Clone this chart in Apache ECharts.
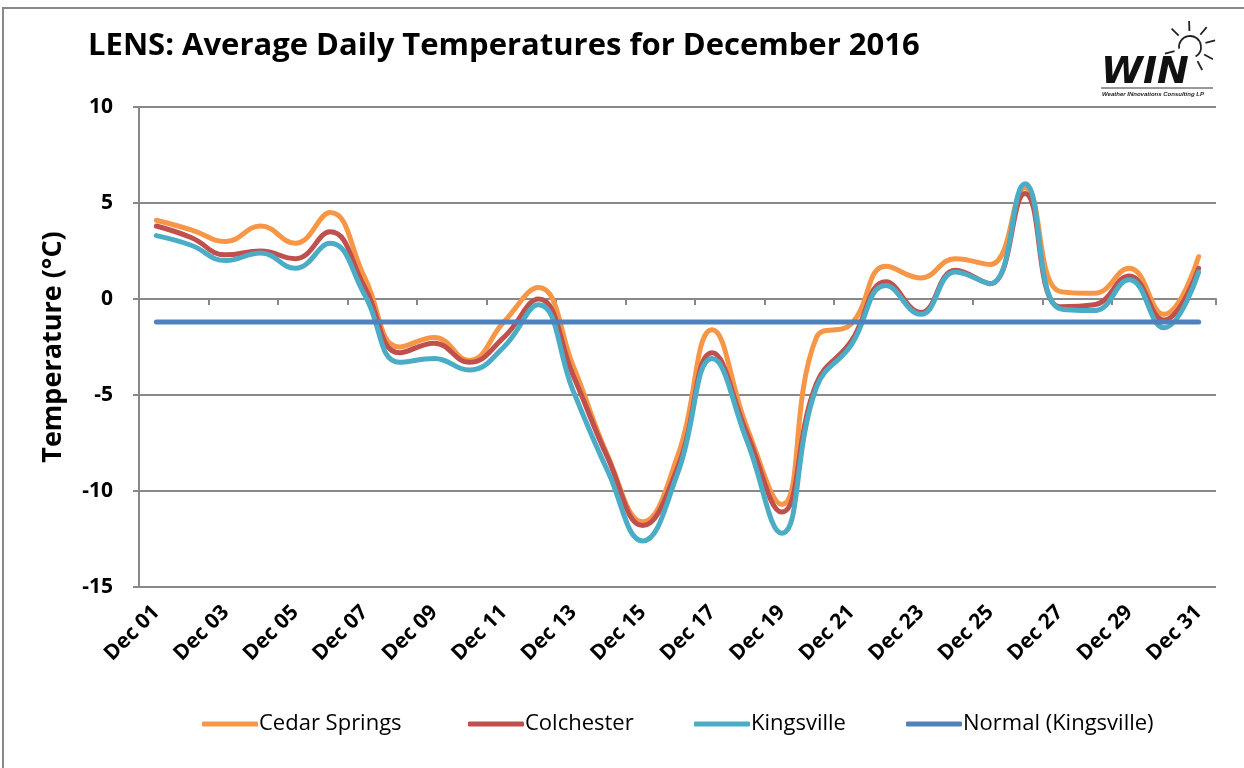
<!DOCTYPE html>
<html>
<head>
<meta charset="utf-8">
<script src="https://cdn.jsdelivr.net/npm/echarts@6/dist/echarts.min.js"></script>
<style>
html,body{margin:0;padding:0;background:#fff;}
#chart{width:1244px;height:768px;}
</style>
</head>
<body>
<div id="chart"></div>
<script>
var titleText = 'LENS: Average Daily Temperatures for December 2016';
var categories = ['Dec 01','Dec 02','Dec 03','Dec 04','Dec 05','Dec 06','Dec 07','Dec 08','Dec 09','Dec 10',
  'Dec 11','Dec 12','Dec 13','Dec 14','Dec 15','Dec 16','Dec 17','Dec 18','Dec 19','Dec 20',
  'Dec 21','Dec 22','Dec 23','Dec 24','Dec 25','Dec 26','Dec 27','Dec 28','Dec 29','Dec 30','Dec 31'];
var cedarSprings = [4.1, 3.6, 3.0, 3.8, 2.9, 4.5, 1.1, -2.5, -2.0, -3.2, -1.2, 0.6, -3.5, -8.2, -11.6, -8.2, -1.6, -6.7, -10.7, -2.0, -1.3, 1.7, 1.1, 2.1, 1.8, 5.8, 0.4, 0.3, 1.6, -0.8, 2.2];
var colchester   = [3.8, 3.2, 2.3, 2.5, 2.1, 3.5, 0.6, -2.8, -2.3, -3.3, -2.0, 0.0, -4.0, -8.3, -11.8, -8.8, -2.8, -7.0, -11.1, -4.4, -2.2, 0.9, -0.7, 1.5, 0.8, 5.5, -0.4, -0.3, 1.2, -1.1, 1.6];
var kingsville   = [3.3, 2.8, 2.0, 2.4, 1.6, 2.9, 0.2, -3.3, -3.1, -3.7, -2.5, -0.3, -4.8, -9.0, -12.6, -9.1, -3.1, -7.4, -12.2, -4.6, -2.4, 0.7, -0.8, 1.4, 0.8, 6.0, -0.5, -0.6, 1.0, -1.5, 1.4];
var normalKingsville = [-1.2, -1.2, -1.2, -1.2, -1.2, -1.2, -1.2, -1.2, -1.2, -1.2, -1.2, -1.2, -1.2, -1.2, -1.2, -1.2, -1.2, -1.2, -1.2, -1.2, -1.2, -1.2, -1.2, -1.2, -1.2, -1.2, -1.2, -1.2, -1.2, -1.2, -1.2];
var seriesNames = ['Cedar Springs', 'Colchester', 'Kingsville', 'Normal (Kingsville)'];
var seriesColors = ['#F79646', '#C0504D', '#4BACC6', '#4F81BD'];
var yTicks = {min: -15, max: 10, interval: 5};

var FONT = '"Open Sans", "Liberation Sans", sans-serif';
var chart = echarts.init(document.getElementById('chart'), null, {renderer: 'canvas'});

function lineSeries(name, data, color, smooth) {
  return {
    name: name, type: 'line', data: data, xAxisIndex: 0, yAxisIndex: 0,
    smooth: smooth, showSymbol: false, symbol: 'none',
    lineStyle: {color: color, width: 5, cap: 'round', join: 'round'},
    itemStyle: {color: color},
    z: 3
  };
}

var legendLefts = [197, 463, 689, 901];
var legends = seriesNames.map(function (n, i) {
  return {
    data: [n], left: legendLefts[i], top: 708,
    icon: 'roundRect', itemWidth: 56, itemHeight: 5, itemGap: 0,
    textStyle: {fontFamily: FONT, fontSize: 22, color: '#000', padding: [0, 0, 0, -4]},
    selectedMode: false
  };
});

var sunCx = 1190, sunCy = 47;
var rayAngles = [195, 135, 92, 50, 15, -28, -62];
var rays = rayAngles.map(function (a) {
  var r = a * Math.PI / 180;
  return {
    type: 'line',
    shape: {x1: sunCx + 16 * Math.cos(r), y1: sunCy - 16 * Math.sin(r), x2: sunCx + 26 * Math.cos(r), y2: sunCy - 26 * Math.sin(r)},
    style: {stroke: '#222', lineWidth: 1.8}
  };
});

var option = {
  backgroundColor: '#fff',
  animation: false,
  title: {
    text: titleText, left: 83, top: 26,
    textStyle: {fontFamily: FONT, fontWeight: 'bold', fontSize: 31, color: '#000'}
  },
  legend: legends,
  grid: {left: 139, right: 28, top: 107, bottom: 181, containLabel: false},
  xAxis: [{
    type: 'category', data: categories, boundaryGap: true, position: 'bottom',
    axisLine: {show: false, onZero: false},
    axisTick: {show: false},
    axisLabel: {interval: 1, rotate: 45, margin: 22, fontFamily: FONT, fontWeight: 'bold', fontSize: 21, color: '#000'},
    splitLine: {show: false}
  }, {
    type: 'category', data: categories, boundaryGap: true, position: 'bottom',
    axisLine: {show: true, onZero: true, lineStyle: {color: '#888', width: 2}},
    axisTick: {show: true, interval: 1, length: 6, lineStyle: {color: '#888', width: 2}},
    axisLabel: {show: false},
    splitLine: {show: false}
  }],
  yAxis: {
    type: 'value', min: yTicks.min, max: yTicks.max, interval: yTicks.interval,
    name: 'Temperature (°C)', nameLocation: 'middle', nameGap: 72, nameRotate: 90,
    nameTextStyle: {fontFamily: FONT, fontWeight: 'bold', fontSize: 27, color: '#000'},
    axisLine: {show: true, lineStyle: {color: '#888', width: 2}},
    axisTick: {show: true, length: 6, lineStyle: {color: '#888', width: 2}},
    axisLabel: {margin: 26, fontFamily: FONT, fontWeight: 'bold', fontSize: 21, color: '#000'},
    splitLine: {show: true, lineStyle: {color: '#888', width: 2}}
  },
  series: [
    lineSeries(seriesNames[0], cedarSprings, seriesColors[0], 0.45),
    lineSeries(seriesNames[1], colchester, seriesColors[1], 0.45),
    lineSeries(seriesNames[2], kingsville, seriesColors[2], 0.45),
    lineSeries(seriesNames[3], normalKingsville, seriesColors[3], false)
  ],
  graphic: [
    {type: 'rect', shape: {x: 3, y: 8, width: 1260, height: 800}, style: {fill: 'none', stroke: '#888', lineWidth: 2}, silent: true},
    {type: 'text', left: 1101, top: 54, style: {text: 'WIN', font: 'italic 900 38px "DejaVu Sans", sans-serif', fill: '#111'}},
    {type: 'arc', shape: {cx: sunCx, cy: sunCy, r: 11, startAngle: Math.PI * 0.95, endAngle: Math.PI * 2.33}, style: {stroke: '#222', lineWidth: 1.8, fill: 'none'}},
    {type: 'line', shape: {x1: 1101, y1: 88, x2: 1213, y2: 88}, style: {stroke: '#333', lineWidth: 1}},
    {type: 'text', left: 1102, top: 91, style: {text: 'Weather INnovations Consulting LP', font: 'italic bold 6px "Liberation Sans", sans-serif', fill: '#222'}}
  ].concat(rays)
};
chart.setOption(option);
</script>
</body>
</html>
